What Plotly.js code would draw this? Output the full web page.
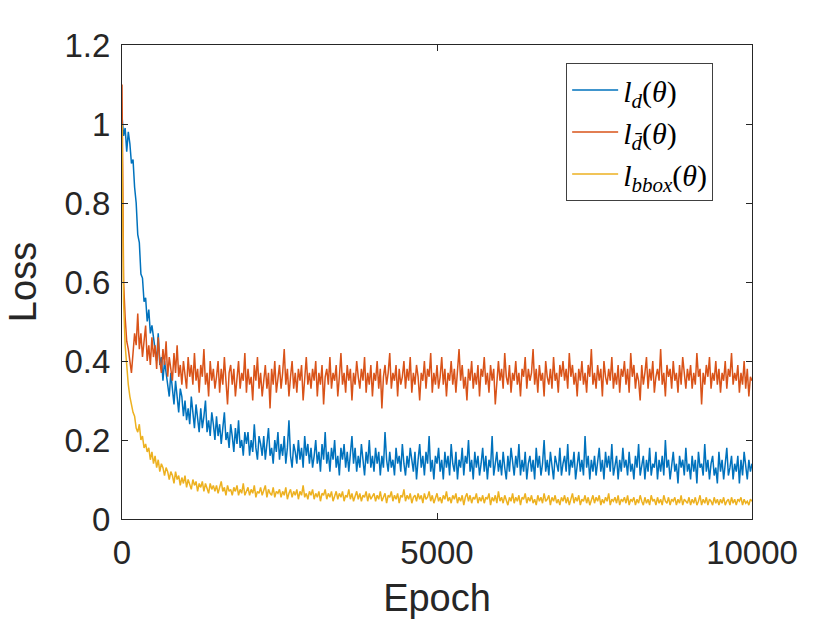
<!DOCTYPE html>
<html>
<head>
<meta charset="utf-8">
<script src="https://cdn.plot.ly/plotly-3.0.1.min.js"></script>
<style>html,body{margin:0;padding:0;background:#fff;}#chart{width:830px;height:623px;}</style>
</head>
<body>
<div id="chart"></div>
<script>
// Loss values, one sample every 25 epochs (0 .. 10000)
const lossD = [
1.02,0.97,0.99,0.93,0.98,0.95,0.90,0.91,0.84,0.80,
0.72,0.70,0.62,0.61,0.55,0.56,0.50,0.53,0.47,0.49,
0.46,0.43,0.40,0.47,0.39,0.41,0.35,0.40,0.37,0.33,
0.31,0.37,0.33,0.29,0.35,0.30,0.27,0.33,0.31,0.26,
0.30,0.25,0.28,0.24,0.31,0.27,0.23,0.29,0.26,0.22,
0.28,0.23,0.26,0.30,0.22,0.25,0.21,0.27,0.24,0.20,
0.26,0.21,0.24,0.19,0.23,0.27,0.20,0.22,0.18,0.24,
0.21,0.17,0.23,0.19,0.25,0.18,0.20,0.16,0.22,0.19,
0.22,0.16,0.20,0.17,0.24,0.18,0.15,0.21,0.19,0.16,
0.21,0.15,0.19,0.23,0.16,0.18,0.14,0.20,0.17,0.22,
0.15,0.19,0.16,0.21,0.14,0.18,0.25,0.16,0.13,0.19,
0.17,0.14,0.20,0.15,0.18,0.13,0.21,0.16,0.19,0.14,
0.18,0.13,0.16,0.20,0.14,0.17,0.12,0.19,0.15,0.22,
0.14,0.17,0.12,0.18,0.15,0.20,0.13,0.16,0.11,0.18,
0.15,0.19,0.13,0.17,0.12,0.16,0.21,0.14,0.18,0.12,
0.16,0.13,0.19,0.15,0.11,0.17,0.14,0.20,0.13,0.16,
0.12,0.18,0.14,0.17,0.11,0.16,0.13,0.22,0.15,0.12,
0.17,0.13,0.15,0.11,0.18,0.14,0.16,0.12,0.19,0.14,
0.11,0.16,0.13,0.18,0.15,0.12,0.17,0.10,0.15,0.19,
0.13,0.16,0.11,0.17,0.14,0.21,0.12,0.15,0.10,0.16,
0.14,0.18,0.12,0.15,0.10,0.17,0.13,0.16,0.11,0.19,
0.14,0.12,0.17,0.10,0.15,0.13,0.18,0.11,0.16,0.14,
0.20,0.12,0.15,0.10,0.17,0.13,0.16,0.11,0.14,0.18,
0.12,0.16,0.10,0.15,0.13,0.21,0.11,0.14,0.17,0.12,
0.15,0.11,0.17,0.13,0.10,0.16,0.12,0.18,0.14,0.11,
0.16,0.13,0.19,0.11,0.15,0.12,0.17,0.10,0.14,0.16,
0.12,0.15,0.10,0.18,0.13,0.16,0.11,0.14,0.20,0.12,
0.15,0.11,0.17,0.13,0.10,0.16,0.14,0.12,0.18,0.11,
0.14,0.16,0.12,0.19,0.11,0.15,0.13,0.17,0.10,0.14,
0.17,0.12,0.15,0.11,0.21,0.13,0.16,0.10,0.15,0.12,
0.16,0.11,0.14,0.18,0.12,0.15,0.10,0.17,0.13,0.16,
0.12,0.19,0.11,0.14,0.16,0.10,0.15,0.12,0.18,0.13,
0.15,0.11,0.17,0.12,0.14,0.10,0.16,0.13,0.19,0.11,
0.14,0.16,0.10,0.15,0.12,0.18,0.11,0.14,0.13,0.17,
0.10,0.15,0.12,0.16,0.11,0.20,0.13,0.15,0.10,0.14,
0.17,0.12,0.14,0.09,0.16,0.13,0.15,0.11,0.18,0.12,
0.14,0.10,0.16,0.12,0.15,0.09,0.17,0.13,0.14,0.11,
0.19,0.12,0.15,0.10,0.14,0.16,0.11,0.13,0.09,0.17,
0.12,0.15,0.10,0.14,0.18,0.11,0.13,0.16,0.10,0.14,
0.12,0.16,0.09,0.15,0.11,0.17,0.13,0.10,0.15,0.12,
0.14
];
const lossDbar = [
1.10,0.60,0.51,0.45,0.43,0.40,0.37,0.42,0.47,0.44,
0.52,0.43,0.47,0.41,0.45,0.49,0.40,0.44,0.39,0.46,
0.41,0.44,0.38,0.46,0.40,0.37,0.43,0.39,0.45,0.36,
0.41,0.38,0.35,0.42,0.37,0.44,0.36,0.39,0.34,0.40,
0.37,0.33,0.41,0.36,0.39,0.34,0.42,0.35,0.38,0.32,
0.39,0.36,0.43,0.34,0.37,0.31,0.40,0.35,0.38,0.33,
0.36,0.40,0.32,0.38,0.34,0.41,0.35,0.29,0.37,0.39,
0.34,0.38,0.31,0.36,0.40,0.33,0.37,0.35,0.42,0.32,
0.38,0.34,0.36,0.30,0.39,0.35,0.41,0.33,0.37,0.31,
0.36,0.39,0.33,0.37,0.28,0.38,0.34,0.40,0.32,0.36,
0.39,0.33,0.37,0.43,0.34,0.38,0.31,0.36,0.40,0.33,
0.37,0.32,0.38,0.35,0.39,0.30,0.36,0.41,0.34,0.37,
0.33,0.38,0.35,0.40,0.31,0.37,0.34,0.39,0.29,0.36,
0.38,0.34,0.41,0.33,0.37,0.35,0.39,0.31,0.36,0.42,
0.34,0.37,0.32,0.39,0.35,0.38,0.30,0.37,0.34,0.40,
0.36,0.33,0.38,0.35,0.41,0.32,0.37,0.34,0.39,0.31,
0.37,0.35,0.40,0.33,0.38,0.28,0.36,0.39,0.34,0.37,
0.42,0.33,0.37,0.35,0.39,0.31,0.38,0.34,0.36,0.40,
0.33,0.38,0.35,0.41,0.32,0.37,0.34,0.39,0.36,0.30,
0.37,0.35,0.40,0.33,0.38,0.36,0.42,0.32,0.37,0.34,
0.39,0.33,0.36,0.41,0.34,0.38,0.31,0.37,0.35,0.40,
0.34,0.38,0.32,0.37,0.43,0.35,0.39,0.33,0.36,0.30,
0.38,0.35,0.40,0.33,0.37,0.34,0.39,0.31,0.38,0.36,
0.41,0.34,0.37,0.32,0.39,0.35,0.38,0.29,0.36,0.40,
0.35,0.38,0.33,0.42,0.36,0.34,0.39,0.32,0.37,0.35,
0.40,0.34,0.37,0.31,0.38,0.36,0.41,0.33,0.38,0.35,
0.37,0.43,0.34,0.38,0.32,0.39,0.35,0.37,0.31,0.40,
0.36,0.34,0.38,0.33,0.41,0.35,0.37,0.32,0.39,0.36,
0.40,0.35,0.38,0.33,0.42,0.36,0.39,0.34,0.37,0.31,
0.38,0.35,0.40,0.34,0.37,0.32,0.39,0.36,0.43,0.34,
0.37,0.33,0.39,0.35,0.38,0.31,0.40,0.36,0.34,0.38,
0.35,0.41,0.33,0.37,0.34,0.39,0.32,0.38,0.36,0.40,
0.34,0.38,0.32,0.42,0.36,0.39,0.33,0.37,0.35,0.30,
0.39,0.34,0.37,0.41,0.33,0.38,0.35,0.40,0.32,0.36,
0.38,0.35,0.43,0.34,0.37,0.31,0.39,0.36,0.38,0.33,
0.40,0.35,0.37,0.32,0.39,0.34,0.41,0.36,0.33,0.38,
0.35,0.39,0.33,0.37,0.34,0.42,0.36,0.38,0.29,0.37,
0.34,0.39,0.36,0.41,0.33,0.37,0.35,0.40,0.34,0.38,
0.32,0.37,0.35,0.40,0.33,0.38,0.36,0.42,0.34,0.37,
0.35,0.39,0.32,0.37,0.34,0.40,0.33,0.38,0.31,0.36,
0.35
];
const lossBbox = [
1.00,0.55,0.44,0.38,0.34,0.31,0.29,0.27,0.26,0.23,
0.22,0.24,0.20,0.21,0.18,0.19,0.17,0.18,0.15,0.17,
0.14,0.16,0.13,0.15,0.12,0.14,0.13,0.11,0.13,0.12,
0.10,0.12,0.11,0.09,0.12,0.10,0.11,0.085,0.105,0.09,
0.11,0.08,0.10,0.09,0.075,0.10,0.085,0.095,0.07,0.09,
0.08,0.095,0.07,0.09,0.08,0.065,0.09,0.075,0.085,0.07,
0.085,0.065,0.08,0.095,0.07,0.08,0.06,0.085,0.07,0.075,
0.06,0.08,0.07,0.085,0.06,0.075,0.065,0.09,0.06,0.07,
0.08,0.06,0.075,0.065,0.085,0.055,0.07,0.065,0.08,0.06,
0.07,0.085,0.055,0.075,0.065,0.06,0.08,0.055,0.07,0.065,
0.075,0.055,0.07,0.06,0.08,0.05,0.065,0.075,0.055,0.07,
0.06,0.075,0.05,0.07,0.06,0.085,0.055,0.065,0.05,0.07,
0.06,0.075,0.05,0.065,0.055,0.07,0.045,0.065,0.06,0.075,
0.05,0.065,0.055,0.07,0.045,0.06,0.07,0.05,0.065,0.055,
0.07,0.045,0.06,0.055,0.075,0.05,0.065,0.045,0.06,0.07,
0.05,0.065,0.045,0.06,0.055,0.07,0.045,0.065,0.05,0.06,
0.065,0.045,0.06,0.05,0.07,0.045,0.055,0.065,0.04,0.06,
0.055,0.07,0.045,0.06,0.05,0.065,0.04,0.06,0.055,0.075,
0.045,0.06,0.05,0.065,0.04,0.055,0.06,0.045,0.065,0.05,
0.06,0.04,0.065,0.05,0.055,0.07,0.045,0.06,0.04,0.055,
0.065,0.045,0.055,0.04,0.06,0.05,0.07,0.045,0.055,0.04,
0.06,0.05,0.065,0.04,0.055,0.045,0.06,0.035,0.055,0.065,
0.045,0.06,0.04,0.055,0.05,0.065,0.04,0.055,0.045,0.06,
0.04,0.055,0.05,0.065,0.035,0.055,0.045,0.06,0.04,0.07,
0.045,0.055,0.04,0.06,0.05,0.035,0.055,0.045,0.065,0.04,
0.055,0.045,0.06,0.035,0.055,0.05,0.065,0.04,0.055,0.045,
0.06,0.04,0.05,0.035,0.06,0.045,0.055,0.04,0.065,0.045,
0.05,0.06,0.035,0.055,0.045,0.06,0.04,0.05,0.035,0.055,
0.045,0.06,0.04,0.055,0.035,0.05,0.065,0.04,0.055,0.045,
0.06,0.035,0.05,0.045,0.06,0.04,0.055,0.035,0.05,0.06,
0.04,0.055,0.045,0.06,0.035,0.05,0.04,0.055,0.045,0.065,
0.035,0.05,0.045,0.055,0.04,0.06,0.035,0.05,0.045,0.055,
0.04,0.06,0.035,0.05,0.045,0.055,0.035,0.05,0.04,0.06,
0.045,0.035,0.055,0.04,0.05,0.035,0.06,0.045,0.05,0.035,
0.055,0.04,0.05,0.035,0.06,0.045,0.04,0.055,0.035,0.05,
0.045,0.055,0.035,0.05,0.04,0.06,0.035,0.05,0.045,0.04,
0.055,0.035,0.05,0.04,0.055,0.035,0.045,0.06,0.035,0.05,
0.04,0.055,0.035,0.05,0.045,0.035,0.055,0.04,0.05,0.035,
0.05,0.04,0.055,0.035,0.045,0.05,0.035,0.055,0.04,0.05,
0.035,0.05,0.045,0.055,0.035,0.05,0.04,0.045,0.035,0.05,
0.045
];
const epochStep = 25;
const epochs = lossD.map((_, i) => i * epochStep);

const seriesNames = [
  '<i>l</i><sub><i>d</i></sub>(<i>θ</i>)',
  '<i>l</i><sub><i>d̄</i></sub>(<i>θ</i>)',
  '<i>l</i><sub><i>bbox</i></sub>(<i>θ</i>)'
];
const xTicks = [0, 5000, 10000];
const yTicks = [0, 0.2, 0.4, 0.6, 0.8, 1, 1.2];

const colors = ['#0072BD', '#D95319', '#EDB120'];
const seriesValues = [lossD, lossDbar, lossBbox];

const traces = seriesValues.map((vals, k) => ({
  type: 'scatter', mode: 'lines',
  x: epochs, y: vals, name: seriesNames[k],
  line: {color: colors[k], width: 1.5}
}));

const axisCommon = {
  showline: true, linecolor: '#262626', linewidth: 1, mirror: 'allticks',
  ticks: 'inside', ticklen: 6, tickwidth: 1, tickcolor: '#262626',
  showgrid: false, zeroline: false,
  tickfont: {family: 'Liberation Sans, Arial, sans-serif', size: 33, color: '#262626'}
};

const layout = {
  width: 830, height: 623,
  paper_bgcolor: '#ffffff', plot_bgcolor: '#ffffff',
  margin: {l: 122, r: 78, t: 45, b: 104},
  showlegend: true,
  xaxis: Object.assign({}, axisCommon, {
    range: [0, 10000], tickvals: xTicks, ticktext: xTicks.map(String),
    ticklabelstandoff: 4,
    title: {text: 'Epoch', font: {family: 'Liberation Sans, Arial, sans-serif', size: 38, color: '#262626'}, standoff: 14}
  }),
  yaxis: Object.assign({}, axisCommon, {
    range: [0, 1.2], tickvals: yTicks, ticktext: yTicks.map(String),
    ticklabelstandoff: 4,
    title: {text: 'Loss', font: {family: 'Liberation Sans, Arial, sans-serif', size: 38, color: '#262626'}, standoff: 16}
  }),
  legend: {
    x: 0.705, y: 0.962, xanchor: 'left', yanchor: 'top',
    bgcolor: '#ffffff', bordercolor: '#404040', borderwidth: 1,
    itemwidth: 46,
    font: {family: 'Liberation Serif, DejaVu Serif, serif', size: 30, color: '#000000'}
  }
};

Plotly.newPlot('chart', traces, layout, {displayModeBar: false, staticPlot: true});
</script>
</body>
</html>
